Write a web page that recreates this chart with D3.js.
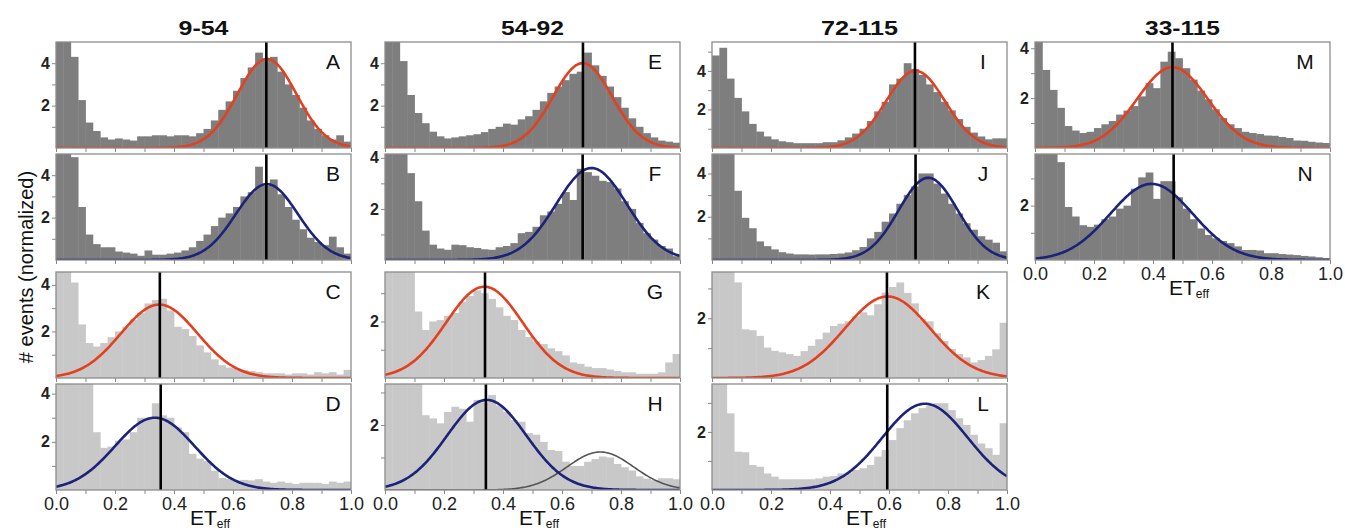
<!DOCTYPE html>
<html>
<head>
<meta charset="utf-8">
<script src="https://cdn.jsdelivr.net/npm/d3@7"></script>
<style>
  body { margin: 0; background: #fff; }
  text { font-family: "Liberation Sans", Arial, sans-serif; }
</style>
</head>
<body>
<svg id="chart" width="1345" height="531"></svg>
<script>
// column titles (fragment ranges)
const columnTitles = ["9-54", "54-92", "72-115", "33-115"];
const panelLetters = ["A", "B", "C", "D", "E", "F", "G", "H", "I", "J", "K", "L", "M", "N"];

// x ticks / labels
const xTickValues = [0, 0.1, 0.2, 0.3, 0.4, 0.5, 0.6, 0.7, 0.8, 0.9, 1.0];
const xTickLabels = {0: "0.0", 0.2: "0.2", 0.4: "0.4", 0.6: "0.6", 0.8: "0.8", 1: "1.0"};
const yTickValues = [1, 2, 3, 4, 5];
const yTickLabels = {2: "2", 4: "4"};

// histograms, 40 bins of 0.025 on ET_eff (normalized counts)
const histA = [6,6,4.3,2.26,1.2,0.8,0.5,0.4,0.45,0.4,0.35,0.55,0.55,0.6,0.6,0.55,0.6,0.6,0.55,0.7,0.9,1.3,1.8,2.2,2.7,3.3,3.8,4.5,4.2,4.3,3.6,3.0,2.5,1.9,1.3,0.9,0.6,0.4,0.6,0.3];
const histB = [5.5,5.5,4.85,2.5,1.2,0.75,0.6,0.6,0.4,0.35,0.3,0.2,0.45,0.25,0.25,0.3,0.35,0.45,0.6,0.9,1.2,1.6,2.0,2.2,2.5,3.0,3.2,4.4,3.5,3.8,3.1,2.5,1.9,1.45,1.05,0.85,0.7,1.1,0.6,0.3];
const histC = [5,5,4.1,2.3,1.5,1.35,1.5,1.75,2.0,2.2,2.5,2.8,3.2,3.35,3.4,2.9,2.2,2.1,1.8,1.4,1.1,0.8,0.55,0.45,0.4,0.35,0.3,0.25,0.2,0.2,0.2,0.15,0.2,0.2,0.15,0.25,0.2,0.25,0.15,0.35];
const histD = [5,5,5,4.5,4.4,2.4,1.75,1.8,2.05,2.1,2.4,3.0,3.0,3.6,3.1,3.0,2.6,2.4,1.5,1.3,1.2,0.8,0.5,0.45,0.4,0.42,0.4,0.45,0.35,0.3,0.35,0.3,0.25,0.3,0.3,0.3,0.25,0.35,0.3,0.35];
const histE = [6,6,4.1,2.5,1.65,1.17,0.77,0.55,0.45,0.5,0.55,0.6,0.65,0.75,0.9,1.0,1.15,1.1,1.35,1.5,1.8,2.2,2.6,2.9,3.2,3.5,3.6,4.5,3.9,3.4,2.9,2.4,1.9,1.4,1.0,0.7,0.5,0.35,0.3,0.25];
const histF = [5,5,5,3.4,2.3,1.15,0.6,0.45,0.4,0.6,0.58,0.5,0.47,0.42,0.4,0.5,0.55,0.66,1.05,1.1,1.3,1.75,1.9,2.2,2.66,2.35,3.57,3.44,3.3,3.1,3.05,2.8,2.3,2.0,1.45,1.05,0.8,0.55,0.45,0.15];
const histG = [4.5,4.5,4.5,4.2,2.35,1.7,2.0,2.05,2.2,2.3,2.7,2.9,3.1,3.0,2.8,2.5,2.2,2.05,1.7,1.45,1.3,1.2,1.05,0.95,0.8,0.55,0.5,0.4,0.35,0.35,0.3,0.25,0.2,0.2,0.15,0.15,0.15,0.2,0.55,0.85];
const histH = [4,4,4,3.6,3.3,2.3,2.2,2.05,2.4,2.56,2.5,2.1,2.77,2.7,2.92,2.6,2.4,2.15,2.1,1.75,1.7,1.48,1.23,1.2,0.87,0.74,0.74,0.87,0.95,1.03,1.0,0.8,0.7,0.6,0.42,0.35,0.3,0.36,0.36,0.33];
const histI = [4.8,5.2,3.6,2.6,1.9,1.25,0.85,0.6,0.45,0.35,0.3,0.25,0.25,0.25,0.25,0.3,0.3,0.4,0.55,0.75,1.0,1.4,1.9,2.4,3.3,3.6,4.4,4.1,3.8,3.3,2.9,2.4,1.95,1.5,1.1,0.8,0.6,0.45,0.5,0.5];
const histJ = [5.5,5.5,5.2,3.2,1.95,1.47,0.86,0.64,0.49,0.36,0.3,0.26,0.26,0.25,0.26,0.26,0.28,0.3,0.35,0.45,0.6,1.0,1.3,1.77,2.15,2.6,3.0,3.4,4.0,4.0,3.53,3.07,2.6,2.15,1.7,1.4,1.1,0.94,0.8,0.4];
const histK = [4.5,4.5,3.7,3.2,1.63,1.6,1.41,1.02,0.91,0.86,0.8,0.74,0.9,1.08,1.3,1.52,1.74,1.82,1.9,2.07,2.2,2.1,2.47,2.86,3.05,3.2,2.85,2.5,1.97,1.9,1.5,1.24,0.97,0.8,0.69,0.52,0.6,0.74,0.96,1.85];
const histL = [4.5,4.0,2.64,1.32,1.3,0.86,0.8,0.57,0.46,0.37,0.37,0.37,0.37,0.37,0.4,0.46,0.48,0.57,0.6,0.69,0.75,0.86,1.15,1.38,1.72,2.13,2.4,2.64,2.82,2.9,2.99,2.99,2.75,2.47,2.24,1.9,1.6,1.44,1.21,2.3];
const histM = [5,3.13,2.33,1.61,0.88,0.7,0.6,0.65,0.8,0.95,1.08,1.34,1.5,1.68,2.07,2.6,2.4,3.46,3.86,3.6,3.2,2.74,2.3,1.95,1.55,1.2,0.95,0.8,0.65,0.6,0.56,0.5,0.49,0.44,0.4,0.3,0.29,0.25,0.22,0.2];
const histN = [5,5,4.5,3.6,1.95,1.6,1.28,1.22,1.3,1.5,1.6,1.89,2.0,2.62,3.04,3.22,2.25,2.9,2.9,2.31,1.89,1.5,1.16,0.92,0.8,0.7,0.62,0.5,0.37,0.37,0.35,0.25,0.25,0.22,0.2,0.18,0.15,0.13,0.1,0.07];
const histograms = [histA, histB, histC, histD, histE, histF, histG, histH, histI, histJ, histK, histL, histM, histN];

// gaussian fits: centre, width, height
const fitMu    = [0.715, 0.715, 0.35, 0.335, 0.67, 0.70, 0.337, 0.345, 0.69, 0.733, 0.595, 0.722, 0.466, 0.395];
const fitSigma = [0.10, 0.105, 0.13, 0.135, 0.10, 0.12, 0.13, 0.134, 0.10, 0.10, 0.145, 0.145, 0.12, 0.14];
const fitAmp   = [4.2, 3.58, 3.15, 3.0, 4.0, 3.6, 3.23, 2.77, 4.0, 3.8, 2.73, 2.97, 3.24, 2.8];
// second (gray) component in panel H
const extraFitH = {mu: 0.73, sigma: 0.113, amp: 1.17};

// black reference line position
const markerX = [0.713, 0.713, 0.352, 0.355, 0.671, 0.67, 0.339, 0.342, 0.688, 0.69, 0.593, 0.594, 0.466, 0.47];

// upper end of each y axis
const yMax = [5, 5, 4.55, 4.4, 5, 4.15, 3.75, 3.26, 5.5, 4.9, 3.55, 3.65, 4.25, 3.9];

// ---- layout ----
const panelCol = [0,0,0,0, 1,1,1,1, 2,2,2,2, 3,3];
const panelRow = [0,1,2,3, 0,1,2,3, 0,1,2,3, 0,1];
const colX = [56, 385, 712, 1035];
const rowY = [42, 154, 272, 384];
const panelW = 295, panelH = 106;
const letterInset = [18, 25, 24, 25];
const titleWidth = [50, 63, 77, 75];
const binW = 0.025;

const darkFill = "#7e7e7e", lightFill = "#c8c8c8";
const red = "#e2401f", blue = "#1c2378";

const svg = d3.select('#chart');
const defs = svg.append('defs');

panelLetters.forEach(function(letter, i) {
    const col = panelCol[i], row = panelRow[i];
    const x0 = colX[col], y0 = rowY[row];
    const isLight = row >= 2;
    const isRed = row % 2 === 0;
    const lastInCol = (col === 3 && row === 1) || row === 3;

    const x = d3.scaleLinear().domain([0, 1]).range([0, panelW]);
    const y = d3.scaleLinear().domain([0, yMax[i]]).range([panelH, 0]);

    const g = svg.append('g').attr('transform', `translate(${x0},${y0})`);

    defs.append('clipPath').attr('id', 'clip' + letter)
        .append('rect').attr('width', panelW).attr('height', panelH);

    const plot = g.append('g').attr('clip-path', `url(#clip${letter})`);

    const bins = histograms[i].map((v, k) => ({x0: k * binW, x1: (k + 1) * binW, v: v}));
    plot.selectAll('rect.bar')
        .data(bins)
        .join('rect')
        .attr('class', 'bar')
        .attr('x', d => x(d.x0))
        .attr('width', d => x(d.x1) - x(d.x0) + 0.4)
        .attr('y', d => y(d.v))
        .attr('height', d => panelH - y(d.v))
        .attr('fill', isLight ? lightFill : darkFill);

    const xs = d3.range(0, 1.0001, 0.004);
    const line = d3.line().x(d => x(d[0])).y(d => y(d[1]));

    if (letter === "H") {
        const pts2 = xs.map(t => [t, extraFitH.amp * Math.exp(-Math.pow(t - extraFitH.mu, 2) / (2 * extraFitH.sigma * extraFitH.sigma))]);
        plot.append('path').attr('d', line(pts2))
            .attr('fill', 'none').attr('stroke', '#555').attr('stroke-width', 1.6);
    }

    const pts = xs.map(t => [t, fitAmp[i] * Math.exp(-Math.pow(t - fitMu[i], 2) / (2 * fitSigma[i] * fitSigma[i]))]);
    plot.append('path').attr('d', line(pts))
        .attr('fill', 'none')
        .attr('stroke', isRed ? red : blue)
        .attr('stroke-width', 2.6);

    plot.append('line')
        .attr('x1', x(markerX[i])).attr('x2', x(markerX[i]))
        .attr('y1', 0).attr('y2', panelH)
        .attr('stroke', '#000').attr('stroke-width', 2.6);

    // axes
    const xAxis = d3.axisBottom(x)
        .tickValues(xTickValues)
        .tickSize(4)
        .tickFormat(d => lastInCol ? (xTickLabels[Math.round(d * 10) / 10] || "") : "");
    const gx = g.append('g').attr('transform', `translate(0,${panelH})`).call(xAxis);
    gx.select('.domain').remove();
    gx.selectAll('line').attr('stroke', '#888');
    gx.selectAll('text').attr('font-size', 18).attr('fill', '#222').attr('dy', '0.85em').attr('y', 5);

    const yAxis = d3.axisLeft(y)
        .tickValues(yTickValues.filter(v => v < yMax[i]))
        .tickSize(4)
        .tickFormat(d => yTickLabels[d] || "");
    const gy = g.append('g').call(yAxis);
    gy.select('.domain').remove();
    gy.selectAll('line').attr('stroke', '#888');
    gy.selectAll('text').attr('font-size', 16).attr('font-weight', 'bold').attr('fill', '#222').attr('x', -6);

    g.append('rect')
        .attr('width', panelW).attr('height', panelH)
        .attr('fill', 'none').attr('stroke', '#8c8c8c').attr('stroke-width', 1.3);

    g.append('text')
        .attr('x', panelW - letterInset[col]).attr('y', 27)
        .attr('text-anchor', 'middle')
        .attr('font-size', 21)
        .attr('fill', '#111')
        .text(letter);

    if (lastInCol) {
        const et = g.append('text')
            .attr('x', 134).attr('y', panelH + 35)
            .attr('font-size', 21).attr('fill', '#111');
        et.append('tspan').text('ET');
        et.append('tspan').attr('font-size', 12).attr('dy', 3).text('eff');
    }
});

// column titles
columnTitles.forEach(function(t, c) {
    svg.append('text')
        .attr('x', colX[c] + panelW / 2 - titleWidth[c] / 2)
        .attr('y', 35)
        .attr('font-size', 20)
        .attr('font-weight', 'bold')
        .attr('fill', '#111')
        .attr('textLength', titleWidth[c])
        .attr('lengthAdjust', 'spacingAndGlyphs')
        .text(t);
});

// shared y label
svg.append('text')
    .attr('transform', 'translate(33,267) rotate(-90)')
    .attr('text-anchor', 'middle')
    .attr('font-size', 20)
    .attr('fill', '#111')
    .text('# events (normalized)');
</script>
</body>
</html>
